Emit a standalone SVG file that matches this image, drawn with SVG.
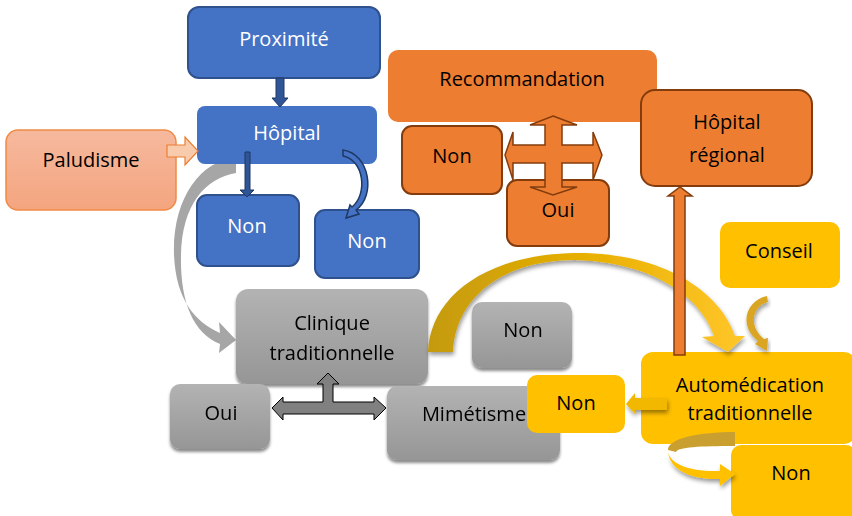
<svg xmlns="http://www.w3.org/2000/svg" width="852" height="516" viewBox="0 0 852 516">
<defs>
<style>
text{font-family:"Open Sans","Liberation Sans",sans-serif;font-size:20px;text-anchor:middle}
.w{fill:#fff}
.k{fill:#000}
.blue{fill:#4472C4}
.bs{stroke:#2F528F;stroke-width:2}
.org{fill:#ED7D31}
.os{stroke:#843C0C;stroke-width:2}
.gry{fill:url(#gg)}
.yel{fill:#FFC000}
</style>
<linearGradient id="gg" x1="0" y1="0" x2="0" y2="1"><stop offset="0" stop-color="#B3B3B3"/><stop offset="1" stop-color="#969696"/></linearGradient>
<linearGradient id="pg" x1="0" y1="0" x2="0" y2="1"><stop offset="0" stop-color="#F6B99E"/><stop offset="1" stop-color="#F4A57F"/></linearGradient>
<linearGradient id="ag" x1="0" y1="0" x2="1" y2="0"><stop offset="0" stop-color="#C49A0C"/><stop offset="0.5" stop-color="#E8B000"/><stop offset="1" stop-color="#FFC62A"/></linearGradient>
<filter id="sh" x="-10%" y="-10%" width="120%" height="130%"><feDropShadow dx="0" dy="3" stdDeviation="1.5" flood-color="#000" flood-opacity="0.45"/></filter>
<filter id="sh2" x="-10%" y="-10%" width="120%" height="130%"><feDropShadow dx="1" dy="3" stdDeviation="2" flood-color="#000" flood-opacity="0.4"/></filter>
</defs>

<g id="connectors-back">
<path d="M236,158 C200,160 172,200 174,255 C176,300 195,322 220,333 L219,322 L236,340 L219,353 L220,344 C192,333 180,300 181,255 C182,205 205,178 236,173 Z" fill="#A6A6A6"/>
</g>

<g id="proximite"><rect x="188" y="7" width="192" height="71" rx="11" class="blue bs"/><text x="284" y="46" class="w">Proximité</text></g>
<g id="hopital"><rect x="197" y="106" width="180" height="58" rx="8" class="blue"/><text x="287" y="140" class="w">Hôpital</text></g>
<g id="paludisme"><rect x="6" y="130" width="170" height="80" rx="12" fill="url(#pg)" stroke="#F08A46" stroke-width="1.5"/><text x="91" y="167" class="k">Paludisme</text></g>
<g id="non-blue-1"><rect x="197" y="195" width="102" height="71" rx="10" class="blue bs"/><text x="247" y="233" class="w">Non</text></g>
<g id="non-blue-2"><rect x="315" y="210" width="104" height="68" rx="10" class="blue bs"/><text x="367" y="248" class="w">Non</text></g>

<g id="recommandation"><rect x="388" y="50" width="269" height="72" rx="10" class="org"/><text x="522" y="86" class="k">Recommandation</text></g>
<g id="non-orange"><rect x="402" y="126" width="100" height="68" rx="10" class="org os"/><text x="452" y="163" class="k">Non</text></g>
<g id="oui-orange"><rect x="507" y="180" width="102" height="66" rx="10" class="org os"/><text x="558" y="217" class="k">Oui</text></g>
<g id="hopital-regional"><rect x="641" y="90" width="171" height="96" rx="14" class="org os"/><text x="727" y="129" class="k">Hôpital</text><text x="727" y="162" class="k">régional</text></g>
<g id="conseil"><rect x="720" y="222" width="120" height="66" rx="10" class="yel"/><text x="779" y="258" class="k">Conseil</text></g>

<g id="clinique" filter="url(#sh)"><rect x="236" y="289" width="192" height="95" rx="12" class="gry"/><text x="332" y="330" class="k">Clinique</text><text x="332" y="360" class="k">traditionnelle</text></g>
<g id="non-gray" filter="url(#sh)"><rect x="472" y="302" width="100" height="66" rx="10" class="gry"/><text x="523" y="337" class="k">Non</text></g>
<g id="oui-gray" filter="url(#sh)"><rect x="170" y="384" width="100" height="65" rx="10" class="gry"/><text x="221" y="420" class="k">Oui</text></g>
<g id="mimetisme" filter="url(#sh)"><rect x="387" y="386" width="173" height="74" rx="10" class="gry"/><text x="474" y="421" class="k">Mimétisme</text></g>

<g id="automedication"><rect x="641" y="352" width="215" height="92" rx="12" class="yel"/><text x="750" y="392" class="k">Automédication</text><text x="750" y="420" class="k">traditionnelle</text></g>
<g id="non-yellow-left"><rect x="527" y="375" width="98" height="58" rx="10" class="yel"/><text x="576" y="410" class="k">Non</text></g>
<g id="non-yellow-bottom"><rect x="731" y="445" width="125" height="75" rx="10" class="yel"/><text x="791" y="480" class="k">Non</text></g>

<g id="connectors">
<path d="M276,78 L284,78 L284,98 L288,98 L280,107 L272,98 L276,98 Z" fill="#2F5597" stroke="#1F3864" stroke-width="1"/>
<path d="M245,152 L250,152 L250,190 L254,190 L247,197 L240,190 L245,190 Z" fill="#2F5597" stroke="#1F3864" stroke-width="1"/>
<path d="M343,150 C370,154 376,196 356,210 L359,214 L346,218 L350,205 L352,207 C368,194 364,160 343,156 Z" fill="#4472C4" stroke="#1F3864" stroke-width="1.5"/>
<path d="M167,145 L185,145 L185,137 L198,151 L185,165 L185,157 L167,157 Z" fill="#F8CBAD" stroke="#ED7D31" stroke-width="1.2"/>
<path d="M553,116 L577,125 L562,125 L562,145 L593,145 L593,132 L602,155 L593,180 L593,163 L562,163 L562,187 L577,187 L553,195 L530,187 L545,187 L545,163 L513,163 L513,180 L505,155 L513,132 L513,145 L545,145 L545,125 L530,125 Z" fill="#ED7D31" stroke="#843C0C" stroke-width="1.5"/>
<path d="M328,373 L339,384 L333,384 L333,402 L374,402 L374,397 L386,408 L374,420 L374,414 L283,414 L283,420 L272,408 L283,397 L283,402 L323,402 L323,384 L317,384 Z" fill="#808080" stroke="#000" stroke-width="1"/>
<path d="M428,352 C430,300 480,255 575,253 C660,252 720,290 735,336 L745,336 L728,352 L702,337 L714,336 C700,295 650,262 575,260 C500,260 455,300 453,352 Z" fill="url(#ag)" filter="url(#sh2)"/>
<path d="M767,296 C746,300 738,326 758,341 L755,344 L767,351 L768,338 L764,339 C748,326 752,306 768,302 Z" fill="#D9A520" filter="url(#sh2)"/>
<path d="M674,196 L674,355 L685,355 L685,196 L692,196 L680,187 L668,196 Z" fill="#ED7D31" stroke="#843C0C" stroke-width="1.5"/>
<path d="M667,398 L635,398 L635,393 L626,404 L635,414 L635,410 L667,410 Z" fill="#F2B800" filter="url(#sh2)"/>
<path d="M735,432 C700,432 668,438 668,450 L676,452 C678,447 700,446 735,446 Z" fill="#C9A030"/>
<path d="M668,450 C668,464 690,472 720,471 L720,464 L735,474 L720,486 L720,479 C688,480 668,468 668,450 Z" fill="#FFC000" filter="url(#sh2)"/>
</g>
</svg>
